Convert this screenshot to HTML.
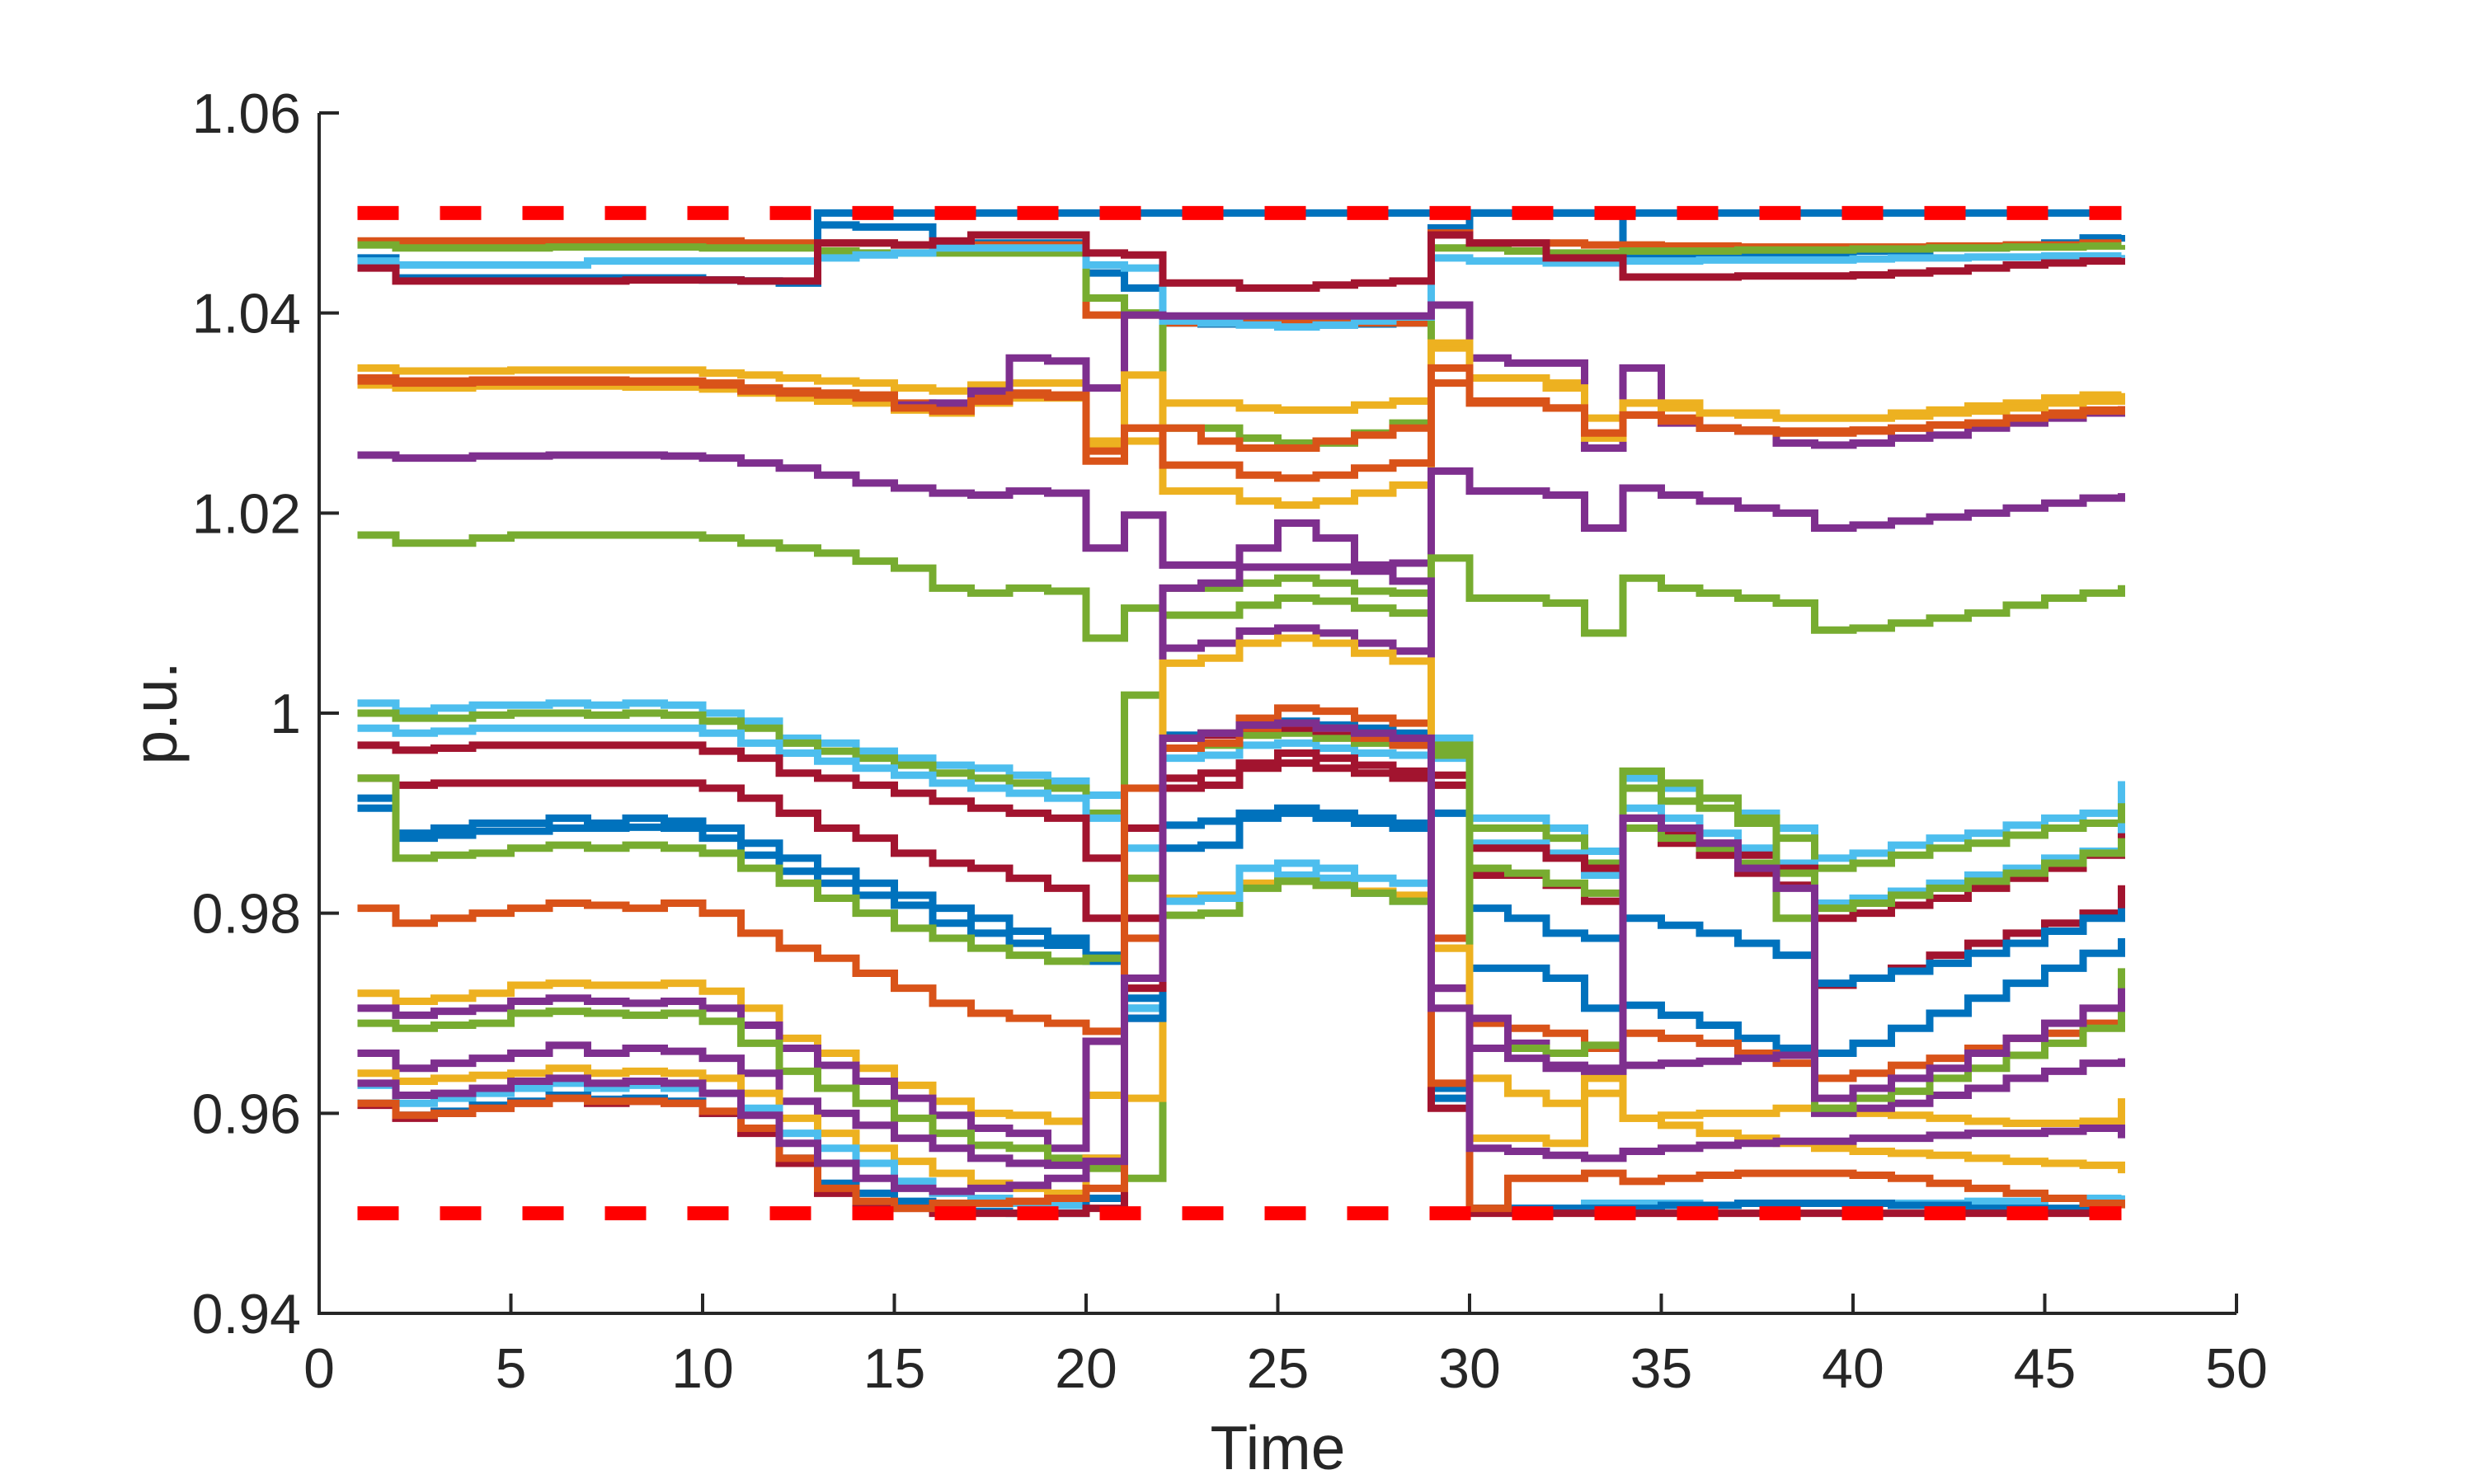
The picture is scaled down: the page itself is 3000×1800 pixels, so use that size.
<!DOCTYPE html>
<html><head><meta charset="utf-8"><style>
html,body{margin:0;padding:0;background:#fff;}
svg{display:block;}
text{font-family:"Liberation Sans",Arial,sans-serif;fill:#262626;}
</style></head><body>
<svg id="chart" width="3000" height="1800" viewBox="0 0 3000 1800" xmlns="http://www.w3.org/2000/svg">
<rect x="0" y="0" width="3000" height="1800" fill="#fff"/>
<g id="series"></g>
<g id="limits"></g>
<g id="axes"></g>
</svg>
<script>
const xTicks = [0,5,10,15,20,25,30,35,40,45,50];
const yTicks = [0.94,0.96,0.98,1.00,1.02,1.04,1.06];
const yTickLabels = ["0.94","0.96","0.98","1","1.02","1.04","1.06"];
const limitValues = [1.05,0.95];
const seriesColors = ["#0072BD","#0072BD","#D95319","#77AC30","#4DBEEE","#A2142F","#EDB120","#D95319","#7E2F8E","#EDB120","#D95319","#7E2F8E","#77AC30","#4DBEEE","#77AC30","#4DBEEE","#A2142F","#A2142F","#0072BD","#0072BD","#77AC30","#D95319","#EDB120","#7E2F8E","#77AC30","#7E2F8E","#EDB120","#4DBEEE","#0072BD","#A2142F","#D95319","#7E2F8E"];
const s01 = [1.0455,1.0435,1.0435,1.0435,1.0435,1.0435,1.0435,1.0435,1.0435, 1.0433,1.0432,1.043,1.050,1.050,1.050,1.050,1.050,1.050,1.050,1.050, 1.050, 1.050,1.050,1.050,1.050,1.050,1.050,1.050, 1.050,1.050,1.050,1.050,1.050,1.050,1.050,1.050,1.050,1.050, 1.050,1.050,1.050,1.050,1.050,1.050,1.050,1.050,1.050];
const s02 = [1.045,1.0435,1.0435,1.0435,1.0435,1.0435,1.0435,1.0435,1.0435, 1.0433,1.0432,1.043,1.0488,1.0486,1.0486,1.047,1.047,1.047,1.047,1.044, 1.0425, 1.039,1.0389,1.0389,1.0388,1.0388,1.0389,1.039, 1.0485,1.050,1.050,1.050,1.050,1.0455,1.0455,1.046,1.046,1.046, 1.046,1.0462,1.0462,1.0465,1.0465,1.0468,1.047,1.0475,1.0478];
const s03 = [1.0472,1.0472,1.0472,1.0472,1.0472,1.0472,1.0472,1.0472,1.0472, 1.0472,1.047,1.047,1.047,1.047,1.0468,1.0468,1.0468,1.0468,1.0468,1.0398, 1.0398, 1.039,1.039,1.039,1.039,1.039,1.039,1.039, 1.048,1.047,1.047,1.047,1.0468,1.0468,1.0467,1.0467,1.0466,1.0466, 1.0466,1.0466,1.0466,1.0467,1.0467,1.0468,1.0468,1.047,1.047];
const s04 = [1.0468,1.0465,1.0465,1.0465,1.0465,1.0466,1.0466,1.0466,1.0466, 1.0465,1.0465,1.0465,1.0462,1.046,1.046,1.046,1.046,1.046,1.046,1.0415, 1.040, 1.0285,1.0285,1.0275,1.027,1.027,1.028,1.029, 1.0465,1.0465,1.0462,1.046,1.046,1.0462,1.0462,1.0462,1.0463,1.0463, 1.0463,1.0464,1.0464,1.0465,1.0465,1.0466,1.0466,1.0467,1.0468];
const s05 = [1.0452,1.0448,1.0448,1.0448,1.0448,1.0448,1.0452,1.0452,1.0452, 1.0452,1.0452,1.0452,1.0455,1.0458,1.046,1.0465,1.0465,1.0465,1.0465,1.0448, 1.0445, 1.0392,1.039,1.0388,1.0386,1.0388,1.0392,1.0396, 1.0455,1.0452,1.0452,1.045,1.045,1.0452,1.0452,1.0453,1.0453,1.0453, 1.0453,1.0454,1.0455,1.0455,1.0456,1.0456,1.0457,1.0457,1.0458];
const s06 = [1.0445,1.0432,1.0432,1.0432,1.0432,1.0432,1.0432,1.0433,1.0433, 1.0433,1.0432,1.0432,1.047,1.047,1.0468,1.0472,1.0478,1.0478,1.0478,1.046, 1.0458, 1.043,1.043,1.0425,1.0425,1.0428,1.043,1.0432, 1.0478,1.047,1.047,1.0455,1.0455,1.0436,1.0436,1.0436,1.0437,1.0437, 1.0437,1.0438,1.044,1.0442,1.0445,1.0448,1.045,1.0452,1.0455];
const s07 = [1.0345,1.0342,1.0342,1.0342,1.0343,1.0343,1.0343,1.0343,1.0343, 1.034,1.0338,1.0335,1.0332,1.033,1.0325,1.0322,1.0328,1.033,1.033,1.0272, 1.0272, 1.031,1.031,1.0305,1.0303,1.0303,1.0308,1.0312, 1.0365,1.0335,1.0335,1.033,1.0295,1.031,1.031,1.030,1.030,1.0295, 1.0295,1.0295,1.030,1.0303,1.0307,1.031,1.0315,1.0318,1.032];
const s08 = [1.0335,1.0332,1.0332,1.0333,1.0333,1.0333,1.0333,1.0332,1.0332, 1.033,1.0325,1.0322,1.032,1.0318,1.031,1.0305,1.0315,1.032,1.0318,1.0252, 1.0285, 1.0285,1.0272,1.0265,1.0265,1.0272,1.0278,1.0285, 1.033,1.0312,1.0312,1.0305,1.028,1.0298,1.0295,1.0285,1.0283,1.0282, 1.0282,1.0283,1.0285,1.0288,1.029,1.0295,1.03,1.0303,1.0307];
const s09 = [1.0332,1.0328,1.0328,1.033,1.033,1.033,1.033,1.033,1.033, 1.0328,1.0322,1.032,1.0315,1.0312,1.0308,1.031,1.0322,1.0355,1.0352,1.0325, 1.0398, 1.0397,1.0397,1.0397,1.0397,1.0397,1.0397,1.0397, 1.0408,1.0355,1.035,1.035,1.0265,1.0345,1.029,1.0285,1.0282,1.027, 1.0268,1.027,1.0275,1.0278,1.0285,1.029,1.0295,1.03,1.0305];
const s10 = [1.0328,1.0325,1.0325,1.0327,1.0327,1.0327,1.0327,1.0326,1.0326, 1.0324,1.032,1.0315,1.0312,1.031,1.0303,1.030,1.031,1.0315,1.0315,1.0268, 1.0338, 1.0222,1.0222,1.0212,1.0208,1.0212,1.022,1.0228, 1.037,1.0335,1.0335,1.0325,1.0275,1.031,1.0305,1.030,1.0298,1.0295, 1.0295,1.0295,1.0297,1.030,1.0302,1.0305,1.031,1.0312,1.0316];
const s11 = [1.0332,1.033,1.033,1.0331,1.0331,1.0331,1.0331,1.0331,1.0331, 1.0328,1.0322,1.032,1.0318,1.0315,1.0305,1.0302,1.0312,1.0318,1.0316,1.0262, 1.0285, 1.0248,1.0248,1.0238,1.0235,1.0238,1.0245,1.025, 1.0345,1.031,1.031,1.0305,1.028,1.0298,1.0292,1.0285,1.0282,1.028, 1.028,1.0282,1.0285,1.0288,1.029,1.0295,1.0298,1.0302,1.0305];
const s12 = [1.0258,1.0255,1.0255,1.0257,1.0257,1.0258,1.0258,1.0258,1.0257, 1.0255,1.025,1.0245,1.0238,1.023,1.0225,1.022,1.0218,1.0222,1.022,1.0165, 1.0198, 1.0148,1.0148,1.0146,1.0146,1.0146,1.0148,1.015, 1.0242,1.0222,1.0222,1.0218,1.0185,1.0225,1.0218,1.0212,1.0205,1.0200, 1.0185,1.0188,1.0192,1.0196,1.020,1.0205,1.021,1.0215,1.022];
const s13 = [1.0178,1.017,1.017,1.0175,1.0178,1.0178,1.0178,1.0178,1.0178, 1.0175,1.017,1.0165,1.016,1.0152,1.0145,1.0125,1.012,1.0125,1.0122,1.0075, 1.0105, 1.0125,1.0125,1.013,1.0135,1.013,1.0122,1.012, 1.0155,1.0115,1.0115,1.011,1.0080,1.0135,1.0125,1.012,1.0115,1.011, 1.0083,1.0085,1.009,1.0095,1.010,1.0108,1.0115,1.012,1.0128];
const s14 = [1.001,1.0002,1.0005,1.0008,1.0008,1.001,1.0008,1.001,1.0008, 1.0,0.9992,0.9975,0.997,0.9962,0.9955,0.9948,0.9945,0.9938,0.9932,0.9918, 0.9865, 0.9955,0.9958,0.9968,0.997,0.9965,0.996,0.9958, 0.9975,0.9895,0.9895,0.9885,0.9862,0.9935,0.9925,0.9915,0.990,0.9885, 0.9855,0.986,0.9868,0.9875,0.988,0.9888,0.9895,0.990,0.9932];
const s15 = [1.000,0.9995,0.9995,0.9998,1.0,1.0,0.9998,1.0,0.9998, 0.9992,0.9985,0.997,0.9962,0.9955,0.9948,0.994,0.9935,0.993,0.9925,0.990, 0.9835, 0.9965,0.9968,0.9978,0.998,0.9975,0.997,0.9968, 0.9962,0.9885,0.9885,0.9875,0.985,0.9925,0.9912,0.9905,0.989,0.9875, 0.9845,0.985,0.9858,0.9865,0.987,0.9878,0.9885,0.989,0.991];
const s16 = [0.9985,0.998,0.9982,0.9985,0.9985,0.9985,0.9985,0.9985,0.9985, 0.998,0.997,0.996,0.9952,0.9945,0.9938,0.993,0.9925,0.992,0.9915,0.9895, 0.9775, 0.9815,0.9818,0.9828,0.9838,0.9835,0.982,0.9812, 0.9955,0.987,0.987,0.986,0.9838,0.9905,0.9895,0.988,0.9865,0.985, 0.981,0.9815,0.9822,0.983,0.9838,0.9845,0.9855,0.9862,0.989];
const s17 = [0.9968,0.9963,0.9965,0.9968,0.9968,0.9968,0.9968,0.9968,0.9968, 0.9962,0.9955,0.994,0.9935,0.9928,0.992,0.9912,0.9905,0.99,0.9895,0.9855, 0.9885, 0.9975,0.9978,0.9985,0.9985,0.9982,0.9978,0.9975, 0.9928,0.9865,0.9865,0.9855,0.9845,0.9895,0.9882,0.987,0.9858,0.9845, 0.9795,0.980,0.9808,0.9815,0.9825,0.9835,0.9845,0.9858,0.988];
const s18 = [0.9935,0.9928,0.993,0.993,0.993,0.993,0.993,0.993,0.993, 0.9925,0.9915,0.99,0.9885,0.9875,0.986,0.985,0.9845,0.9835,0.9825,0.9795, 0.9795, 0.9935,0.994,0.995,0.996,0.9955,0.9948,0.9942, 0.9938,0.9838,0.9838,0.9828,0.9812,0.9885,0.987,0.9858,0.984,0.9828, 0.9728,0.9735,0.9745,0.9758,0.977,0.978,0.979,0.980,0.9828];
const s19 = [0.9915,0.988,0.9885,0.989,0.989,0.9895,0.989,0.9895,0.9892, 0.9885,0.987,0.9855,0.9842,0.983,0.9818,0.9805,0.9795,0.9782,0.9775,0.9752, 0.9705, 0.9888,0.9892,0.990,0.9905,0.99,0.9895,0.989, 0.990,0.9805,0.9795,0.978,0.9775,0.9795,0.9788,0.978,0.977,0.9758, 0.973,0.9735,0.9742,0.975,0.976,0.977,0.9782,0.9795,0.9805];
const s20 = [0.9905,0.9875,0.9878,0.9882,0.9882,0.9885,0.9885,0.9886,0.9885, 0.9875,0.9858,0.9842,0.983,0.9818,0.9808,0.979,0.978,0.977,0.9768,0.9758, 0.9715, 0.9978,0.998,0.999,0.9992,0.9988,0.9985,0.998, 0.9615,0.9745,0.9745,0.9735,0.9705,0.9708,0.9698,0.9688,0.9675,0.9665, 0.966,0.967,0.9685,0.970,0.9715,0.973,0.9745,0.976,0.9775];
const s21 = [0.9935,0.9855,0.9858,0.986,0.9865,0.9868,0.9865,0.9868,0.9865, 0.986,0.9845,0.983,0.9815,0.98,0.9785,0.9775,0.9765,0.9758,0.9752,0.9755, 1.0018, 1.0098,1.0098,1.0108,1.0115,1.0112,1.0105,1.010, 0.9968,0.9845,0.984,0.983,0.982,0.9885,0.9875,0.9865,0.985,0.984, 0.9805,0.981,0.9818,0.9825,0.9832,0.984,0.985,0.986,0.9875];
const s22 = [0.9805,0.979,0.9795,0.980,0.9805,0.981,0.9808,0.9805,0.981, 0.980,0.978,0.9765,0.9755,0.974,0.9725,0.971,0.970,0.9695,0.969,0.9682, 0.9925, 0.9975,0.998,0.9995,1.0005,1.0002,0.9995,0.999, 0.9775,0.969,0.9685,0.968,0.9665,0.968,0.9675,0.967,0.966,0.965, 0.9635,0.964,0.9648,0.9655,0.9665,0.9675,0.968,0.969,0.9705];
const s23 = [0.972,0.9712,0.9715,0.972,0.9728,0.973,0.9728,0.9728,0.973, 0.9722,0.9705,0.9675,0.966,0.9645,0.9628,0.9612,0.96,0.9598,0.9592,0.9618, 0.9725, 0.9815,0.9818,0.983,0.9832,0.9828,0.9822,0.9818, 0.9765,0.9575,0.9575,0.957,0.9635,0.9595,0.9598,0.960,0.960,0.9605, 0.9605,0.960,0.9598,0.9595,0.9592,0.959,0.959,0.9592,0.9615];
const s24 = [0.9705,0.9698,0.9702,0.9705,0.9712,0.9715,0.9712,0.971,0.9712, 0.9705,0.9688,0.9665,0.9648,0.9632,0.9615,0.9598,0.9585,0.958,0.9565,0.9672, 0.9735, 1.0125,1.013,1.0165,1.019,1.0175,1.0142,1.0132, 0.9725,0.9695,0.967,0.9645,0.9645,0.9648,0.965,0.9652,0.9655,0.9658, 0.960,0.9605,0.961,0.9618,0.9625,0.9635,0.9642,0.965,0.9655];
const s25 = [0.969,0.9685,0.9688,0.969,0.970,0.9702,0.970,0.9698,0.97, 0.9692,0.967,0.9642,0.9625,0.961,0.9595,0.958,0.9568,0.9565,0.9555,0.9545, 0.9535, 0.9798,0.980,0.9825,0.9832,0.9828,0.982,0.9812, 0.9958,0.9665,0.9665,0.966,0.9668,0.9942,0.993,0.9915,0.9895,0.9795, 0.9605,0.9615,0.9622,0.9635,0.9645,0.9658,0.967,0.9685,0.9745];
const s26 = [0.966,0.9645,0.965,0.9655,0.966,0.9668,0.966,0.9665,0.9662, 0.9655,0.964,0.9612,0.960,0.9588,0.9575,0.9565,0.9555,0.955,0.9548,0.9555, 0.9695, 1.0065,1.007,1.0082,1.0085,1.008,1.007,1.0062, 0.9725,0.9665,0.9655,0.9648,0.9642,0.9895,0.9885,0.987,0.9845,0.9825, 0.9615,0.9625,0.9635,0.9645,0.966,0.9675,0.969,0.9705,0.9725];
const s27 = [0.964,0.9632,0.9635,0.9638,0.964,0.9645,0.964,0.9642,0.964, 0.9635,0.962,0.9595,0.958,0.9565,0.9552,0.954,0.953,0.9525,0.952,0.9555, 0.9615, 1.005,1.0055,1.007,1.0075,1.007,1.006,1.0052, 0.9765,0.9635,0.962,0.961,0.962,0.9595,0.9588,0.958,0.9575,0.957, 0.9565,0.9562,0.956,0.9558,0.9555,0.9552,0.955,0.9548,0.954];
const s28 = [0.9628,0.961,0.9615,0.962,0.9625,0.963,0.9625,0.9628,0.9625, 0.962,0.9605,0.958,0.9565,0.955,0.9532,0.952,0.9515,0.951,0.9508,0.9515, 0.9705, 0.9812,0.9815,0.9845,0.985,0.9845,0.9835,0.983, 0.9625,0.9505,0.9505,0.9505,0.951,0.951,0.951,0.9508,0.951,0.951, 0.951,0.951,0.951,0.951,0.9512,0.9512,0.9515,0.9515,0.9518];
const s29 = [0.961,0.9598,0.9602,0.9608,0.9612,0.9618,0.9614,0.9615,0.9612, 0.960,0.9585,0.9555,0.953,0.952,0.9512,0.9505,0.9502,0.950,0.950,0.9515, 0.9695, 0.9865,0.9868,0.9895,0.990,0.9895,0.989,0.9885, 0.9625,0.9505,0.9505,0.9505,0.9505,0.9505,0.9508,0.9508,0.951,0.951, 0.951,0.951,0.9508,0.9508,0.9505,0.9505,0.9505,0.9505,0.9505];
const s30 = [0.9608,0.9595,0.960,0.9605,0.961,0.9615,0.961,0.9612,0.961, 0.960,0.958,0.955,0.952,0.951,0.9505,0.950,0.950,0.950,0.950,0.9505, 0.9725, 0.9925,0.9928,0.9945,0.995,0.9945,0.994,0.9935, 0.9605,0.950,0.950,0.950,0.950,0.950,0.950,0.950,0.950,0.950, 0.950,0.950,0.950,0.950,0.950,0.950,0.950,0.950,0.950];
const s31 = [0.961,0.9598,0.960,0.9605,0.961,0.9615,0.9612,0.9612,0.961, 0.9602,0.9585,0.9555,0.9525,0.9512,0.9505,0.951,0.951,0.9512,0.9515,0.9525, 0.9775, 0.9965,0.997,0.9985,0.999,0.9985,0.9975,0.9968, 0.963,0.9505,0.9535,0.9535,0.954,0.9532,0.9535,0.9538,0.954,0.954, 0.954,0.9538,0.9535,0.953,0.9525,0.952,0.9515,0.951,0.9505];
const s32 = [0.963,0.9618,0.962,0.9625,0.9632,0.9635,0.963,0.9632,0.963, 0.962,0.9598,0.957,0.955,0.9535,0.9525,0.9522,0.9525,0.9528,0.9535,0.9552, 0.9735, 0.9975,0.998,0.9988,0.999,0.9985,0.998,0.9975, 0.9705,0.9565,0.9562,0.9558,0.9555,0.9562,0.9565,0.9568,0.957,0.9572, 0.9572,0.9575,0.9575,0.9578,0.958,0.958,0.9582,0.9585,0.9575];
const allSeries = [s01,s02,s03,s04,s05,s06,s07,s08,s09,s10,s11,s12,s13,s14,s15,s16,s17,s18,s19,s20,s21,s22,s23,s24,s25,s26,s27,s28,s29,s30,s31,s32];

const NS = "http://www.w3.org/2000/svg";
const X0 = 387, X1 = 2712, Y0 = 1593, Y1 = 137;
const xMin = 0, xMax = 50, yMin = 0.94, yMax = 1.06;
function xs(t){ return X0 + (t - xMin) / (xMax - xMin) * (X1 - X0); }
function ys(v){ return Y0 - (v - yMin) / (yMax - yMin) * (Y0 - Y1); }
function mk(tag, attrs, parent){ const e = document.createElementNS(NS, tag); for (const k in attrs) e.setAttribute(k, attrs[k]); parent.appendChild(e); return e; }

const gS = document.getElementById('series');
allSeries.forEach((vals, si) => {
  let d = 'M' + xs(1) + ' ' + ys(vals[0]);
  for (let i = 1; i < vals.length; i++) {
    d += ' H' + xs(i + 1) + ' V' + ys(vals[i]);
  }
  const p = mk('path', {d: d, fill: 'none', stroke: seriesColors[si % seriesColors.length], 'stroke-width': 9, 'stroke-linejoin': 'miter', 'stroke-linecap': 'butt'}, gS);
  
  
});

const gL = document.getElementById('limits');
limitValues.forEach((v, i) => {
  const l = mk('line', {x1: xs(1), x2: xs(47), y1: ys(v), y2: ys(v), stroke: '#FF0000', 'stroke-width': 17, 'stroke-dasharray': '50 50'}, gL);
  
  
});

const gA = document.getElementById('axes');
const ax = mk('path', {d: 'M' + X0 + ' ' + Y1 + ' V' + Y0 + ' H' + X1, fill: 'none', stroke: '#262626', 'stroke-width': 4}, gA);


xTicks.forEach(t => {
  const x = xs(t);
  const tk = mk('line', {x1: x, x2: x, y1: Y0, y2: Y0 - 24, stroke: '#262626', 'stroke-width': 4}, gA);
  
  
  const lb = mk('text', {x: x, y: 1683, 'font-size': 68, 'text-anchor': 'middle'}, gA);
  lb.textContent = String(t);
  
  
});
yTicks.forEach((v, i) => {
  const y = ys(v);
  const tk = mk('line', {x1: X0, x2: X0 + 24, y1: y, y2: y, stroke: '#262626', 'stroke-width': 4}, gA);
  
  
  const lb = mk('text', {x: 365, y: y + 24, 'font-size': 68, 'text-anchor': 'end'}, gA);
  lb.textContent = yTickLabels[i];
  
  
});
const xt = mk('text', {x: (X0 + X1) / 2, y: 1782, 'font-size': 75, 'text-anchor': 'middle'}, gA);
xt.textContent = 'Time';


const yt = mk('text', {x: 0, y: 0, 'font-size': 75, 'text-anchor': 'middle', transform: 'translate(214,' + ((Y0 + Y1) / 2) + ') rotate(-90)'}, gA);
yt.textContent = 'p.u.';


</script>
</body></html>
